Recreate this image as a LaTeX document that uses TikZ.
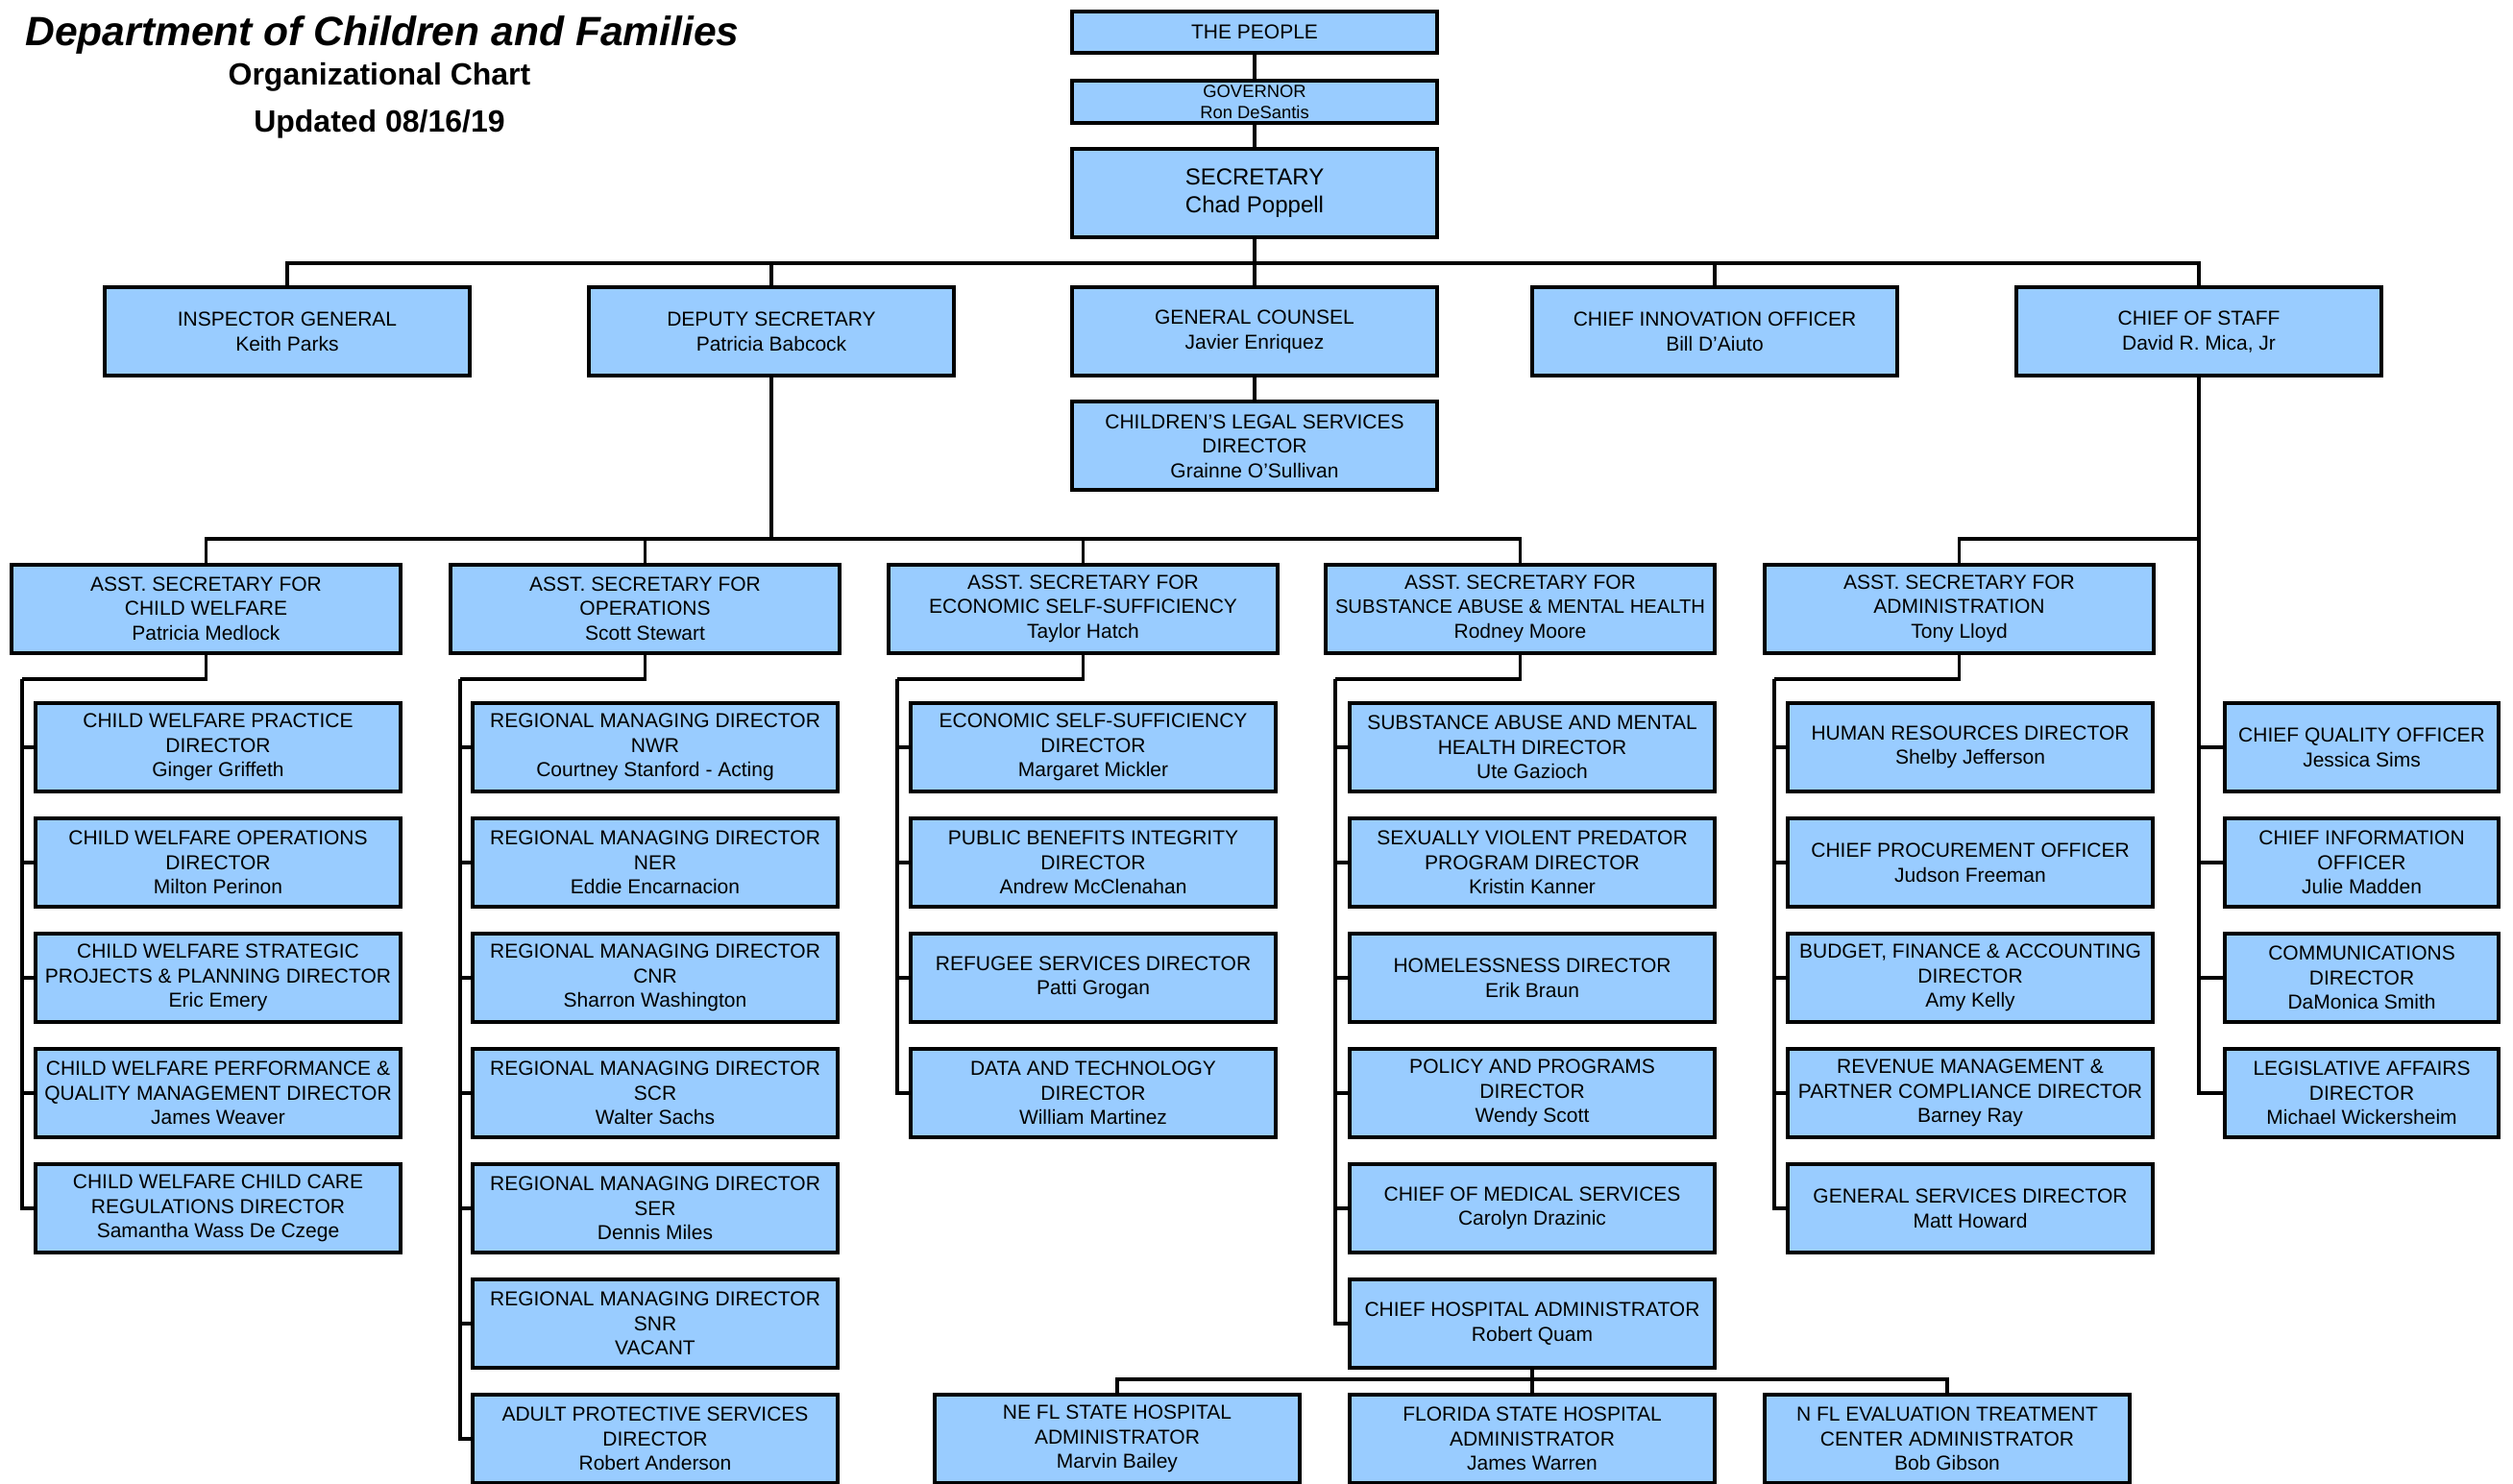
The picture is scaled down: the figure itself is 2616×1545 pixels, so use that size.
\documentclass[tikz,border=0pt]{standalone}
\usepackage{fontspec}
\setmainfont{Liberation Sans}
\usepackage{tikz}
\usetikzlibrary{positioning}
\definecolor{boxblue}{HTML}{99CCFF}

\begin{document}
\begin{tikzpicture}[
    x=0.5pt, y=-0.5pt,
    box/.style={draw, line width=2pt, fill=boxblue, align=center, inner sep=1pt,
        minimum width=190pt, minimum height=46pt, font=\fontsize{10.5}{12.8}\selectfont},
    wide/.style={box, minimum width=202.5pt},
    slim/.style={box, minimum width=142.5pt},
    link/.style={line width=1.6pt}
]
\useasboundingbox (0,0) rectangle (2616,1545);

% title
\node[font=\fontsize{21.3}{24}\selectfont\bfseries\itshape] (title) at (398,36) {Department of Children and Families};
\node[font=\fontsize{16}{18}\selectfont\bfseries] (subtitle) at (395,80) {Organizational Chart};
\node[font=\fontsize{16}{18}\selectfont\bfseries] (date) at (395,129) {Updated 08/16/19};

% top of the chart
\node[box, minimum height=21.5pt] (people) at (1306,33.5) {THE PEOPLE};
\node[box, minimum height=22pt, font=\fontsize{9.2}{10.7}\selectfont] (gov) at (1306,106) {GOVERNOR\\Ron DeSantis};
\node[box, font=\fontsize{12}{14.4}\selectfont] (sec) at (1306,201) {SECRETARY\\Chad Poppell};

\node[box] (ig) at (299,345.5) {INSPECTOR GENERAL\\Keith Parks};
\node[box] (dep) at (803,345.5) {DEPUTY SECRETARY\\Patricia Babcock};
\node[box] (gc) at (1306,345.5) {GENERAL COUNSEL\\Javier Enriquez};
\node[box] (cio) at (1785,345.5) {CHIEF INNOVATION OFFICER\\Bill D’Aiuto};
\node[box] (cos) at (2289,345.5) {CHIEF OF STAFF\\David R. Mica, Jr};
\node[box] (legal) at (1306,464.5) {CHILDREN’S LEGAL SERVICES\\DIRECTOR\\Grainne O’Sullivan};

% assistant secretaries
\node[wide] (cw) at (214.5,633.5) {ASST. SECRETARY FOR\\CHILD WELFARE\\Patricia Medlock};
\node[wide] (ops) at (671.5,633.5) {ASST. SECRETARY FOR\\OPERATIONS\\Scott Stewart};
\node[wide] (ess) at (1127.5,633.5) {ASST. SECRETARY FOR\\ECONOMIC SELF-SUFFICIENCY\\Taylor Hatch};
\node[wide] (samh) at (1582.5,633.5) {ASST. SECRETARY FOR\\{\fontsize{10.1}{12.8}\selectfont SUBSTANCE ABUSE \& MENTAL HEALTH}\\Rodney Moore};
\node[wide] (adm) at (2039.5,633.5) {ASST. SECRETARY FOR\\ADMINISTRATION\\Tony Lloyd};

% child welfare
\node[box] (cw1) at (227,778) {CHILD WELFARE PRACTICE\\DIRECTOR\\Ginger Griffeth};
\node[box] (cw2) at (227,898) {CHILD WELFARE OPERATIONS\\DIRECTOR\\Milton Perinon};
\node[box] (cw3) at (227,1018) {CHILD WELFARE STRATEGIC\\PROJECTS \& PLANNING DIRECTOR\\Eric Emery};
\node[box] (cw4) at (227,1138) {CHILD WELFARE PERFORMANCE \&\\QUALITY MANAGEMENT DIRECTOR\\James Weaver};
\node[box] (cw5) at (227,1258) {CHILD WELFARE CHILD CARE\\REGULATIONS DIRECTOR\\Samantha Wass De Czege};

% operations
\node[box] (ops1) at (682,778) {REGIONAL MANAGING DIRECTOR\\NWR\\Courtney Stanford - Acting};
\node[box] (ops2) at (682,898) {REGIONAL MANAGING DIRECTOR\\NER\\Eddie Encarnacion};
\node[box] (ops3) at (682,1018) {REGIONAL MANAGING DIRECTOR\\CNR\\Sharron Washington};
\node[box] (ops4) at (682,1138) {REGIONAL MANAGING DIRECTOR\\SCR\\Walter Sachs};
\node[box] (ops5) at (682,1258) {REGIONAL MANAGING DIRECTOR\\SER\\Dennis Miles};
\node[box] (ops6) at (682,1378) {REGIONAL MANAGING DIRECTOR\\SNR\\VACANT};
\node[box] (ops7) at (682,1498) {ADULT PROTECTIVE SERVICES\\DIRECTOR\\Robert Anderson};

% economic self-sufficiency
\node[box] (ess1) at (1138,778) {ECONOMIC SELF-SUFFICIENCY\\DIRECTOR\\Margaret Mickler};
\node[box] (ess2) at (1138,898) {PUBLIC BENEFITS INTEGRITY\\DIRECTOR\\Andrew McClenahan};
\node[box] (ess3) at (1138,1018) {REFUGEE SERVICES DIRECTOR\\Patti Grogan};
\node[box] (ess4) at (1138,1138) {DATA AND TECHNOLOGY\\DIRECTOR\\William Martinez};

% substance abuse & mental health
\node[box] (samh1) at (1595,778) {SUBSTANCE ABUSE AND MENTAL\\HEALTH DIRECTOR\\Ute Gazioch};
\node[box] (samh2) at (1595,898) {SEXUALLY VIOLENT PREDATOR\\PROGRAM DIRECTOR\\Kristin Kanner};
\node[box] (samh3) at (1595,1018) {HOMELESSNESS DIRECTOR\\Erik Braun};
\node[box] (samh4) at (1595,1138) {POLICY AND PROGRAMS\\DIRECTOR\\Wendy Scott};
\node[box] (samh5) at (1595,1258) {CHIEF OF MEDICAL SERVICES\\Carolyn Drazinic};
\node[box] (samh6) at (1595,1378) {CHIEF HOSPITAL ADMINISTRATOR\\Robert Quam};
\node[box] (hos1) at (1163,1498) {NE FL STATE HOSPITAL\\ADMINISTRATOR\\Marvin Bailey};
\node[box] (hos2) at (1595,1498) {FLORIDA STATE HOSPITAL\\ADMINISTRATOR\\James Warren};
\node[box] (hos3) at (2027,1498) {N FL EVALUATION TREATMENT\\CENTER ADMINISTRATOR\\Bob Gibson};

% administration
\node[box] (adm1) at (2051,778) {HUMAN RESOURCES DIRECTOR\\Shelby Jefferson};
\node[box] (adm2) at (2051,898) {CHIEF PROCUREMENT OFFICER\\Judson Freeman};
\node[box] (adm3) at (2051,1018) {BUDGET, FINANCE \& ACCOUNTING\\DIRECTOR\\Amy Kelly};
\node[box] (adm4) at (2051,1138) {REVENUE MANAGEMENT \&\\PARTNER COMPLIANCE DIRECTOR\\Barney Ray};
\node[box] (adm5) at (2051,1258) {GENERAL SERVICES DIRECTOR\\Matt Howard};

% chief of staff
\node[slim] (stf1) at (2458.5,778) {CHIEF QUALITY OFFICER\\Jessica Sims};
\node[slim] (stf2) at (2458.5,898) {CHIEF INFORMATION\\OFFICER\\Julie Madden};
\node[slim] (stf3) at (2458.5,1018) {COMMUNICATIONS\\DIRECTOR\\DaMonica Smith};
\node[slim] (stf4) at (2458.5,1138) {LEGISLATIVE AFFAIRS\\DIRECTOR\\Michael Wickersheim};

% bus points
\coordinate (secbus) at (1306,274);
\coordinate (depbus) at (803,561);
\coordinate (cosbus) at (2289,561);
\coordinate (cwk) at (23,707);
\coordinate (opsk) at (479,707);
\coordinate (essk) at (934,707);
\coordinate (samhk) at (1390,707);
\coordinate (admk) at (1847,707);
\coordinate (hosk) at (1595,1436);

\begin{scope}[link]
\draw (people) -- (gov);
\draw (gov) -- (sec);
\draw (sec) -- (secbus);
\draw (secbus) -| (ig.north);
\draw (secbus) -| (dep.north);
\draw (secbus) -- (gc);
\draw (secbus) -| (cio.north);
\draw (secbus) -| (cos.north);
\draw (gc) -- (legal);

\draw (dep) -- (depbus);
\draw (depbus) -| (cw.north);
\draw (depbus) -| (ops.north);
\draw (depbus) -| (ess.north);
\draw (depbus) -| (samh.north);

\draw (cos.south) |- (stf1.west);
\draw (cos.south) |- (stf2.west);
\draw (cos.south) |- (stf3.west);
\draw (cos.south) |- (stf4.west);
\draw (cosbus) -| (adm.north);

\draw (cw.south) |- (cwk);
\draw (cwk) |- (cw1.west);
\draw (cwk) |- (cw2.west);
\draw (cwk) |- (cw3.west);
\draw (cwk) |- (cw4.west);
\draw (cwk) |- (cw5.west);

\draw (ops.south) |- (opsk);
\draw (opsk) |- (ops1.west);
\draw (opsk) |- (ops2.west);
\draw (opsk) |- (ops3.west);
\draw (opsk) |- (ops4.west);
\draw (opsk) |- (ops5.west);
\draw (opsk) |- (ops6.west);
\draw (opsk) |- (ops7.west);

\draw (ess.south) |- (essk);
\draw (essk) |- (ess1.west);
\draw (essk) |- (ess2.west);
\draw (essk) |- (ess3.west);
\draw (essk) |- (ess4.west);

\draw (samh.south) |- (samhk);
\draw (samhk) |- (samh1.west);
\draw (samhk) |- (samh2.west);
\draw (samhk) |- (samh3.west);
\draw (samhk) |- (samh4.west);
\draw (samhk) |- (samh5.west);
\draw (samhk) |- (samh6.west);
\draw (samh6) -- (hosk);
\draw (hosk) -| (hos1.north);
\draw (hosk) -- (hos2);
\draw (hosk) -| (hos3.north);

\draw (adm.south) |- (admk);
\draw (admk) |- (adm1.west);
\draw (admk) |- (adm2.west);
\draw (admk) |- (adm3.west);
\draw (admk) |- (adm4.west);
\draw (admk) |- (adm5.west);
\end{scope}
\end{tikzpicture}
\end{document}
